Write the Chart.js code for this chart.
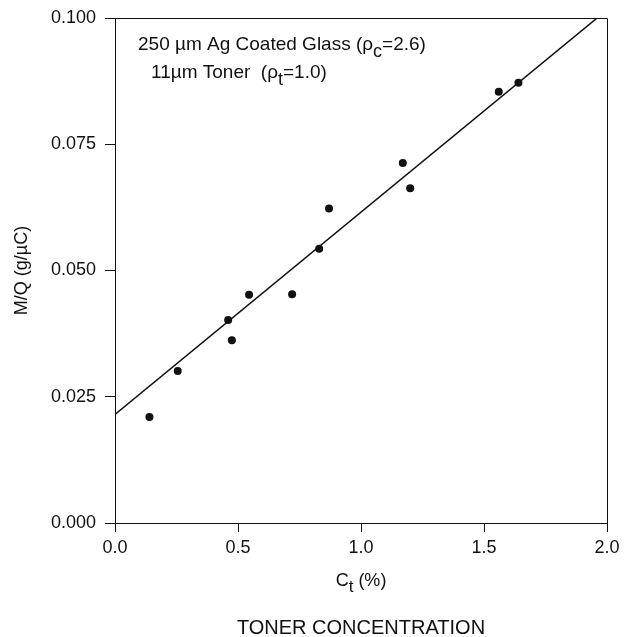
<!DOCTYPE html>
<html>
<head>
<meta charset="utf-8">
<script src="https://cdn.jsdelivr.net/npm/chart.js@4"></script>
<style>
  body { margin: 0; background: #fff; }
  #wrap { width: 636px; height: 637px; }
</style>
</head>
<body>
<div id="wrap"><canvas id="mqChart"></canvas></div>
<script>
const tonerConc = [0.14, 0.255, 0.46, 0.475, 0.545, 0.72, 0.83, 0.87, 1.17, 1.20, 1.56, 1.64]
const massCharge = [0.0210, 0.0301, 0.0402, 0.0362, 0.0452, 0.0453, 0.0543, 0.0623, 0.0713, 0.0663, 0.0854, 0.0872]

// fitted line end points
const fitX = [0.0, 1.96]
const fitY = [0.0215, 0.100]

const xTicks = [0.0, 0.5, 1.0, 1.5, 2.0]
const yTicks = [0.000, 0.025, 0.050, 0.075, 0.100]

const FONT = '"Liberation Sans", Arial, sans-serif'
const INK = '#111'

// draws a run of [text, 'sub'|undefined] pieces
function drawRich(ctx, parts, x, y, size) {
    let cx = x
    parts.forEach(p => {
        const sub = p[1] === 'sub'
        ctx.font = (sub ? size * 0.95 : size) + 'px ' + FONT
        ctx.fillText(p[0], cx, sub ? y + size * 0.35 : y)
        cx += ctx.measureText(p[0]).width
    })
}

function richWidth(ctx, parts, size) {
    let w = 0
    parts.forEach(p => {
        ctx.font = (p[1] === 'sub' ? size * 0.95 : size) + 'px ' + FONT
        w += ctx.measureText(p[0]).width
    })
    return w
}

const labelsPlugin = {
    id: 'labels',
    afterDraw(chart) {
        const ctx = chart.ctx
        const area = chart.chartArea
        ctx.save()
        ctx.fillStyle = INK
        ctx.strokeStyle = INK
        ctx.textBaseline = 'middle'
        ctx.textAlign = 'left'

        // frame top + right
        ctx.lineWidth = 1
        ctx.beginPath()
        ctx.moveTo(area.left, area.top + 0.5)
        ctx.lineTo(area.right + 0.5, area.top + 0.5)
        ctx.lineTo(area.right + 0.5, area.bottom)
        ctx.stroke()

        drawRich(ctx, [['250 \u00b5m Ag Coated Glass ('], ['\u03c1'], ['c', 'sub'], ['=2.6)']], 138, 45, 19)
        drawRich(ctx, [['11\u00b5m Toner  ('], ['\u03c1'], ['t', 'sub'], ['=1.0)']], 151, 73, 19)

        const cx = (area.left + area.right) / 2
        const xt = [['C'], ['t', 'sub'], [' (%)']]
        drawRich(ctx, xt, cx - richWidth(ctx, xt, 18) / 2, 581, 18)

        ctx.font = '20px ' + FONT
        ctx.textAlign = 'center'
        ctx.fillText('TONER CONCENTRATION', cx, 628)

        ctx.font = '18px ' + FONT
        ctx.translate(22, (area.top + area.bottom) / 2)
        ctx.rotate(-Math.PI / 2)
        ctx.fillText('M/Q (g/\u00b5C)', 0, 0)
        ctx.restore()
    }
}

function buildChart() {
    const points = tonerConc.map((x, i) => ({ x, y: massCharge[i] }))
    const fit = fitX.map((x, i) => ({ x, y: fitY[i] }))

    new Chart(document.getElementById('mqChart'), {
        type: 'scatter',
        data: {
            datasets: [{
                data: points,
                pointRadius: 4,
                pointBackgroundColor: INK,
                pointBorderWidth: 0
            }, {
                type: 'line',
                data: fit,
                borderColor: INK,
                borderWidth: 1.6,
                pointRadius: 0,
                fill: false
            }]
        },
        options: {
            responsive: true,
            maintainAspectRatio: false,
            animation: false,
            layout: { padding: { left: 0, top: 10, right: 29, bottom: 0 } },
            plugins: { legend: { display: false }, tooltip: { enabled: false } },
            scales: {
                x: {
                    type: 'linear',
                    min: 0, max: 2,
                    afterFit: s => { s.height = 114 },
                    afterBuildTicks: s => { s.ticks = xTicks.map(v => ({ value: v })) },
                    border: { color: INK, width: 1 },
                    grid: { drawOnChartArea: false, tickLength: 9, color: INK },
                    ticks: {
                        color: INK, padding: 5,
                        font: { family: FONT, size: 18 },
                        callback: v => v.toFixed(1)
                    }
                },
                y: {
                    type: 'linear',
                    min: 0, max: 0.1,
                    afterFit: s => { s.width = 115 },
                    afterBuildTicks: s => { s.ticks = yTicks.map(v => ({ value: v })) },
                    border: { color: INK, width: 1 },
                    grid: { drawOnChartArea: false, tickLength: 10, color: INK },
                    ticks: {
                        color: INK, padding: 9,
                        font: { family: FONT, size: 18, lineHeight: 1 },
                        callback: v => v.toFixed(3)
                    }
                }
            }
        },
        plugins: [labelsPlugin]
    })
}

window.addEventListener('load', () => {
    try {
        buildChart()
    } catch (e) {
        console.error(e)
    }
})
</script>
</body>
</html>
